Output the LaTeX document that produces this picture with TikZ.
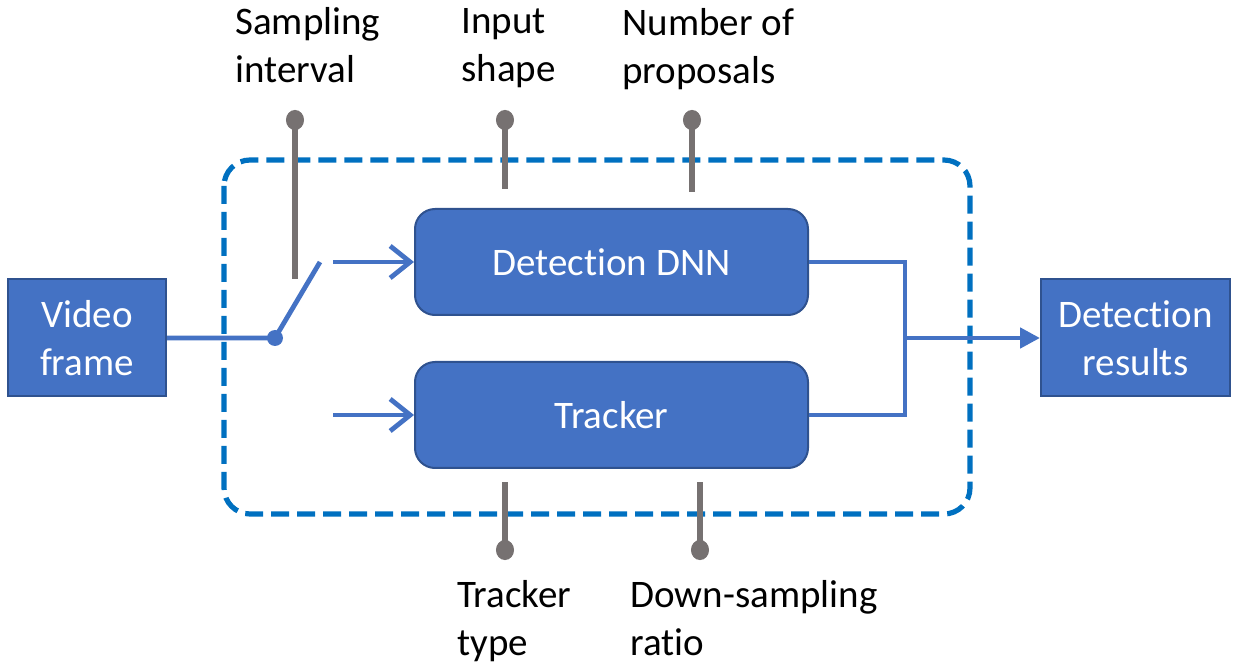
\documentclass[tikz,border=0pt]{standalone}
\usepackage{fontspec}
\setmainfont{Carlito}[RawFeature={-liga;-clig;-calt;-rlig}]
\usetikzlibrary{arrows.meta,positioning}

\definecolor{boxBlue}{HTML}{4472C4}
\definecolor{boxEdge}{HTML}{2F528F}
\definecolor{grpBlue}{HTML}{0070C0}
\definecolor{knobGray}{HTML}{767171}

% keep "t" and "i" apart
\newcommand{\tsep}{\kern0pt }

\begin{document}
\begin{tikzpicture}[
  x=0.5pt,y=-0.5pt,
  font=\fontsize{19.5}{24}\selectfont,
  blk/.style={draw=boxEdge,line width=1pt,fill=boxBlue,text=white,
              align=center,minimum height=58.5pt},
  stage/.style={blk,rounded corners=10pt,minimum width=196.5pt,minimum height=53pt},
  grp/.style={draw=grpBlue,line width=2.6pt,dash pattern=on 9pt off 4pt,
              rounded corners=13pt},
  flow/.style={draw=boxBlue,line width=2.4pt},
  feed/.style={flow,-{Straight Barb[length=10pt,width=16pt,line width=2.4pt]}},
  tune/.style={draw=knobGray,line width=2.6pt,{Circle[length=10pt,width=9pt]}-},
  knob/.style={align=left,anchor=north west,inner sep=0pt},
]
  \useasboundingbox (0,0) rectangle (1239,663);

  % inputs, outputs and the two stages
  \node[blk,minimum width=79pt]   (vid) at (87,338)    {Video\\frame};
  \node[blk,minimum width=94.5pt] (res) at (1135.5,338) {Detect\tsep ion\\results};
  \node[stage] (dnn) at (611.5,262) {Detect\tsep ion DNN};
  \node[stage] (trk) at (611.5,415) {Tracker};

  % boundary of the tunable pipeline
  \draw[grp] (224,160) rectangle (970,514);

  % switch driven by the sampling interval
  \coordinate (sw)    at (275,338);
  \coordinate (swTop) at (320,262);
  \coordinate (toDnn) at (333,262);
  \coordinate (toTrk) at (333,415);
  \draw[flow] (vid.east) -- (sw) -- (swTop);
  \fill[boxBlue] (sw) circle (4pt);
  \draw[feed] (toDnn) -- (dnn.west);
  \draw[feed] (toTrk) -- (trk.west);

  % merge both stages into the result
  \coordinate (mrg) at (905,338);
  \draw[flow] (dnn.east) -| (mrg) |- (trk.east);
  \draw[flow,-{Triangle[length=10pt,width=10pt]}] (mrg) -- (res.west);

  % knobs
  \node[knob] (sint) at (235,7)  {Sampling\\interval};
  \node[knob] (ishp) at (461,8)  {Input\\shape};
  \node[knob] (nprp) at (622,8)  {Number of\\proposals};
  \node[knob] (ttyp) at (457,580) {Tracker\\type};
  \node[knob] (dsr)  at (630,580) {Down-sampling\\rat\tsep io};

  \coordinate (sintA) at (295,110);  \coordinate (sintB) at (295,279);
  \coordinate (ishpA) at (505,110);  \coordinate (ishpB) at (505,189);
  \coordinate (nprpA) at (692,110);  \coordinate (nprpB) at (692,192);
  \coordinate (ttypA) at (505,560);  \coordinate (ttypB) at (505,482);
  \coordinate (dsrA)  at (700,560);  \coordinate (dsrB)  at (700,482);
  \foreach \k in {sint,ishp,nprp,ttyp,dsr}
    \draw[tune] (\k A) -- (\k B);
\end{tikzpicture}
\end{document}
